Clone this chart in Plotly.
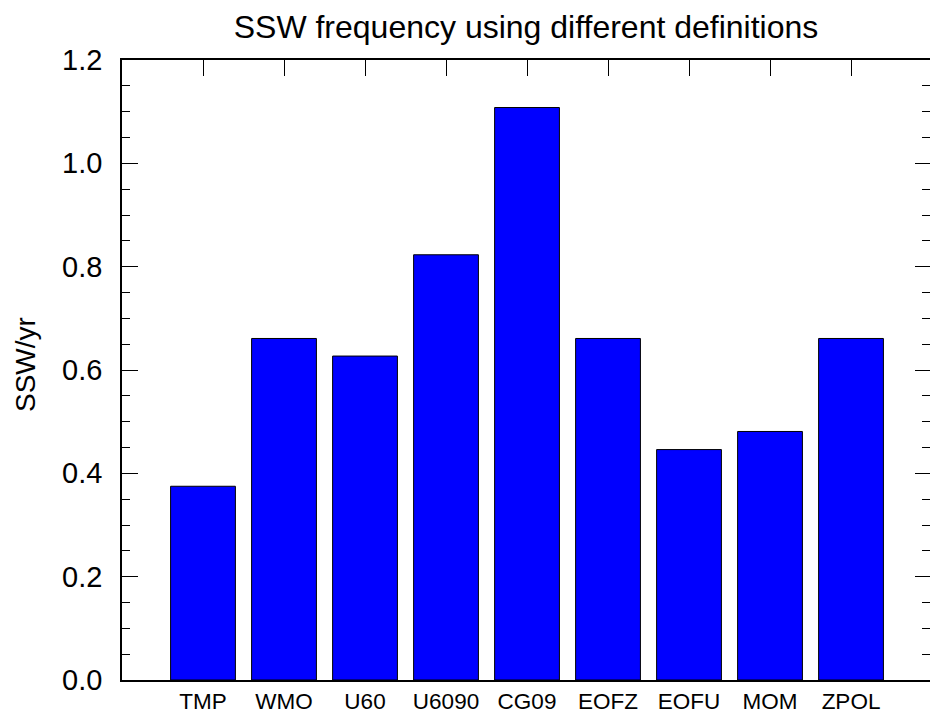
import plotly.graph_objects as go

categories = ["TMP", "WMO", "U60", "U6090", "CG09", "EOFZ", "EOFU", "MOM", "ZPOL"]
ssw_per_year = [0.375, 0.661, 0.627, 0.823, 1.108, 0.661, 0.446, 0.481, 0.661]
y_ticks = [0.0, 0.2, 0.4, 0.6, 0.8, 1.0, 1.2]

FONT = "Liberation Sans, Arial, Helvetica, sans-serif"

fig = go.Figure()
fig.add_trace(go.Bar(
    x=list(range(len(categories))),
    y=ssw_per_year,
    width=0.8,
    marker=dict(color="#0000FF", line=dict(color="black", width=1)),
    showlegend=False,
))
# helper trace so the right-hand tick axis renders
fig.add_trace(go.Scatter(x=[None], y=[None], yaxis="y2", showlegend=False, hoverinfo="skip"))

fig.update_layout(
    width=930, height=714,
    margin=dict(l=122, r=0, t=60, b=30),
    paper_bgcolor="white", plot_bgcolor="white",
    font=dict(family=FONT, color="black"),
    title=dict(text="SSW frequency using different definitions",
               x=0.5, xref="paper", xanchor="center",
               y=1 - 27 / 714, yref="container", yanchor="middle",
               font=dict(size=32, family=FONT, color="black")),
    xaxis=dict(
        range=[-1, 8.975],
        tickmode="array",
        tickvals=list(range(len(categories))),
        ticktext=categories,
        ticks="inside", ticklen=16, tickcolor="black", tickwidth=1,
        showline=True, linecolor="black", linewidth=1.5, mirror="ticks",
        showgrid=False, zeroline=False,
        tickfont=dict(size=22.5, family=FONT, color="black"),
        layer="below traces",
    ),
    yaxis=dict(
        range=[0, 1.2],
        tickmode="array", tickvals=y_ticks,
        tickformat=".1f",
        ticks="inside", ticklen=16, tickcolor="black", tickwidth=1,
        minor=dict(ticks="inside", ticklen=8, dtick=0.05, tickcolor="black", showgrid=False),
        showline=True, linecolor="black", linewidth=1.5,
        showgrid=False, zeroline=False,
        tickfont=dict(size=29, family=FONT, color="black"),
        ticklabelstandoff=12,
    ),
    yaxis2=dict(
        range=[0, 1.2], overlaying="y", side="right", anchor="x",
        tickmode="array", tickvals=y_ticks,
        ticks="inside", ticklen=15, tickcolor="black", tickwidth=1,
        minor=dict(ticks="inside", ticklen=8, dtick=0.05, tickcolor="black", showgrid=False),
        showticklabels=False, showline=False, showgrid=False, zeroline=False,
    ),
    annotations=[dict(
        text="SSW/yr", textangle=-90,
        xref="paper", x=(25 - 122) / 808, xanchor="center",
        yref="paper", y=(684 - 367) / 624, yanchor="middle",
        showarrow=False, font=dict(size=28, family=FONT, color="black"),
    )],
)

fig.write_html("out.html")
